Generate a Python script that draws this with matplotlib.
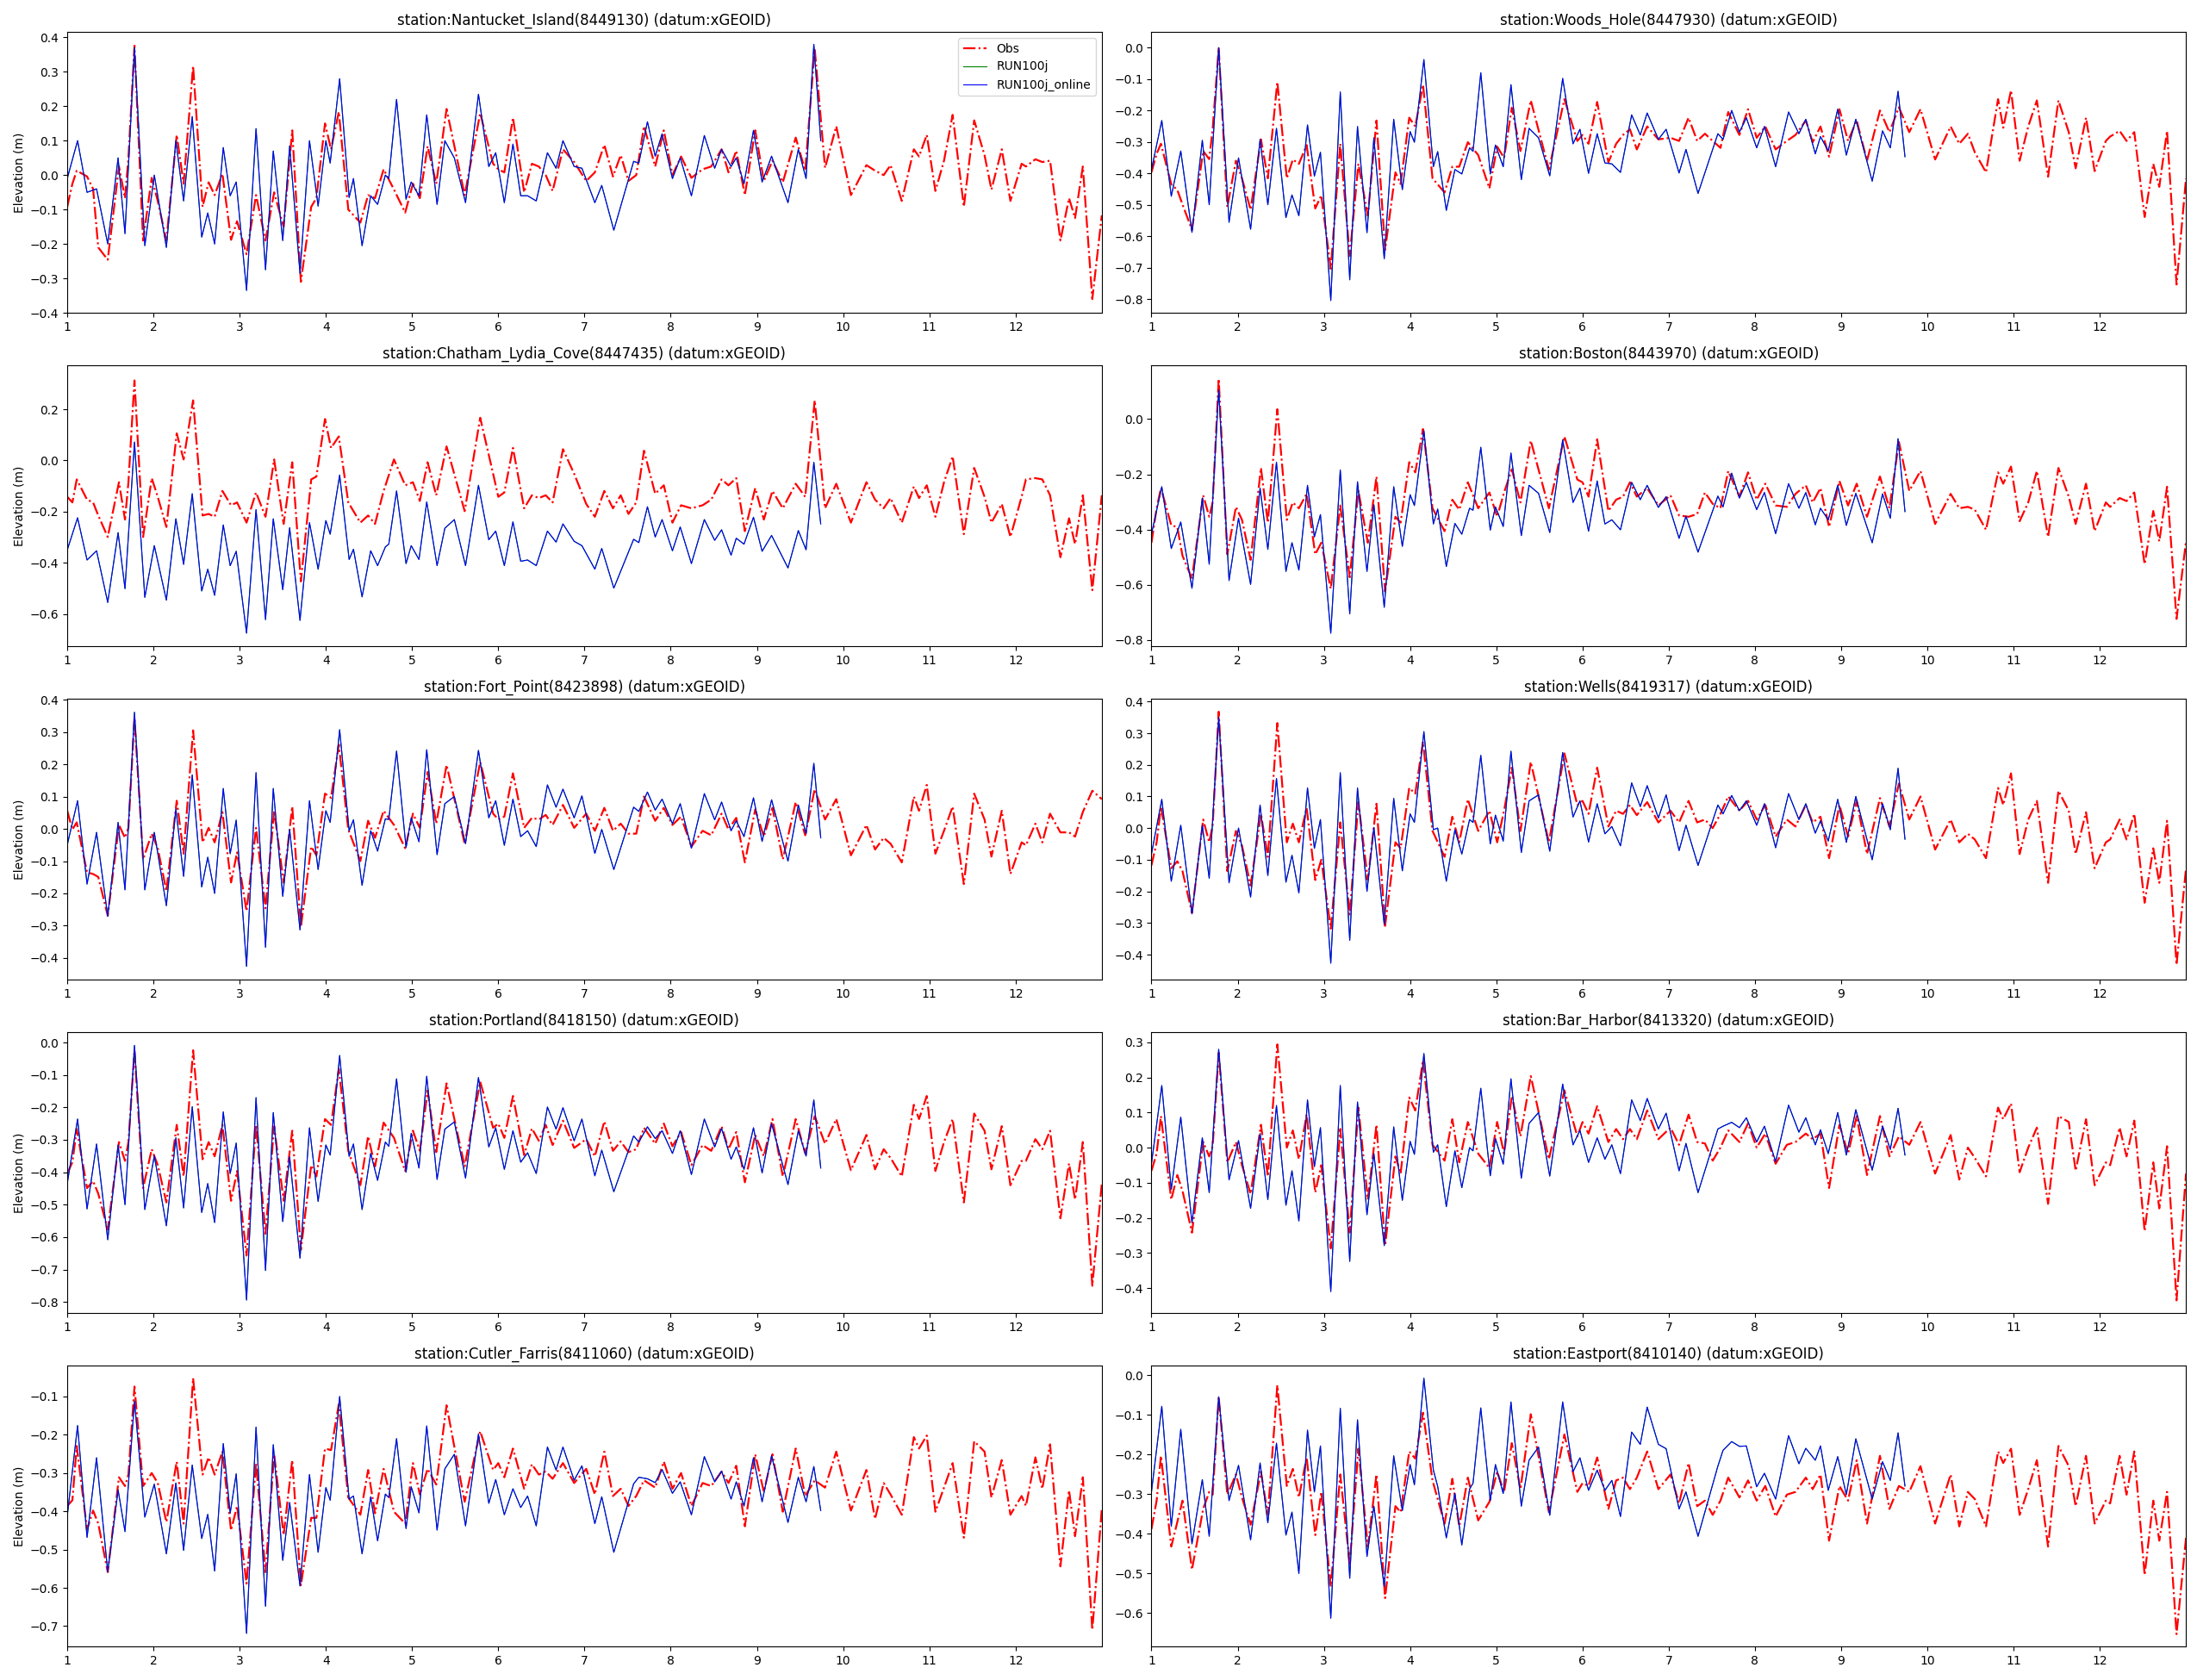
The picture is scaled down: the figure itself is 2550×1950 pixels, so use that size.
import matplotlib
matplotlib.use("Agg")
import matplotlib.pyplot as plt

# stations shown, left to right, top to bottom
stations = ["Nantucket_Island", "Woods_Hole", "Chatham_Lydia_Cove", "Boston", "Fort_Point",
            "Wells", "Portland", "Bar_Harbor", "Cutler_Farris", "Eastport"]
station_ids = ["8449130", "8447930", "8447435", "8443970", "8423898",
               "8419317", "8418150", "8413320", "8411060", "8410140"]

# time (days) of the turning points
obs_t = [1.00, 1.06, 1.11, 1.23, 1.30, 1.36, 1.47, 1.60, 1.67, 1.71,
         1.78, 1.88, 1.98, 2.05, 2.15, 2.27, 2.35, 2.46, 2.57, 2.64,
         2.71, 2.80, 2.90, 2.97, 3.08, 3.19, 3.30, 3.40, 3.51, 3.61,
         3.71, 3.83, 3.89, 3.99, 4.06, 4.15, 4.26, 4.40, 4.49, 4.57,
         4.67, 4.79, 4.92, 5.01, 5.09, 5.18, 5.28, 5.40, 5.61, 5.79,
         5.94, 6.00, 6.07, 6.17, 6.30, 6.39, 6.47, 6.55, 6.63, 6.75,
         6.88, 7.02, 7.12, 7.23, 7.33, 7.42, 7.51, 7.60, 7.69, 7.82,
         7.92, 8.02, 8.12, 8.24, 8.37, 8.47, 8.59, 8.67, 8.76, 8.86,
         8.98, 9.08, 9.18, 9.30, 9.45, 9.56, 9.67, 9.79, 9.92, 10.09,
         10.27, 10.37, 10.47, 10.55, 10.68, 10.82, 10.88, 10.97, 11.07, 11.17,
         11.27, 11.40, 11.52, 11.64, 11.72, 11.84, 11.94, 12.07, 12.12, 12.23,
         12.31, 12.40, 12.52, 12.62, 12.69, 12.78, 12.89, 13.00]

model_t = [1.00, 1.12, 1.23, 1.34, 1.47, 1.59, 1.67, 1.78, 1.90, 2.01,
           2.15, 2.26, 2.35, 2.45, 2.56, 2.63, 2.71, 2.81, 2.89, 2.96,
           3.08, 3.19, 3.30, 3.39, 3.50, 3.58, 3.70, 3.81, 3.91, 4.00,
           4.05, 4.16, 4.27, 4.32, 4.42, 4.52, 4.60, 4.69, 4.73, 4.82,
           4.93, 4.99, 5.08, 5.17, 5.29, 5.38, 5.49, 5.62, 5.77, 5.89,
           5.97, 6.07, 6.17, 6.26, 6.34, 6.44, 6.57, 6.67, 6.75, 6.88,
           6.97, 7.12, 7.20, 7.34, 7.57, 7.63, 7.73, 7.82, 7.90, 8.02,
           8.11, 8.24, 8.39, 8.51, 8.59, 8.70, 8.76, 8.85, 8.96, 9.06,
           9.17, 9.36, 9.48, 9.57, 9.66, 9.74]

# observed water level (m)
obs_nantucket = [-0.092, -0.025, 0.013, -0.004, -0.04, -0.21, -0.246, 0.025, -0.067, 0.05,
                 0.376, -0.19, -0.008, -0.075, -0.19, 0.117, -0.025, 0.317, -0.092, -0.021,
                 -0.058, 0.004, -0.188, -0.134, -0.23, -0.058, -0.19, -0.05, -0.15, 0.13,
                 -0.31, -0.092, -0.067, 0.15, 0.075, 0.184, -0.10, -0.138, -0.058, -0.067,
                 0.017, -0.042, -0.109, -0.025, -0.067, 0.084, -0.025, 0.192, -0.058, 0.18,
                 0.033, 0.017, 0.008, 0.167, -0.05, 0.033, 0.025, 0.0, -0.046, 0.075,
                 0.038, -0.017, 0.008, 0.088, -0.004, 0.058, -0.017, 0.0, 0.142, 0.025,
                 0.13, 0.0, 0.054, -0.008, 0.017, 0.025, 0.075, 0.008, 0.071, -0.058,
                 0.13, -0.017, 0.042, -0.021, 0.109, 0.013, 0.367, 0.021, 0.142, -0.058,
                 0.029, 0.013, 0.0, 0.029, -0.075, 0.075, 0.054, 0.117, -0.046, 0.042,
                 0.175, -0.092, 0.159, 0.058, -0.042, 0.075, -0.075, 0.033, 0.025, 0.046,
                 0.038, 0.042, -0.19, -0.067, -0.125, 0.025, -0.36, -0.117]
obs_woods_hole = [-0.397, -0.338, -0.306, -0.435, -0.453, -0.499, -0.58, -0.329, -0.355, -0.26,
                  0.0, -0.507, -0.36, -0.416, -0.516, -0.292, -0.416, -0.109, -0.416, -0.356,
                  -0.37, -0.31, -0.512, -0.47, -0.704, -0.306, -0.663, -0.37, -0.535, -0.232,
                  -0.644, -0.397, -0.434, -0.223, -0.251, -0.118, -0.416, -0.461, -0.379, -0.379,
                  -0.301, -0.342, -0.448, -0.315, -0.351, -0.191, -0.329, -0.168, -0.388, -0.164,
                  -0.297, -0.278, -0.306, -0.173, -0.365, -0.306, -0.278, -0.26, -0.324, -0.251,
                  -0.292, -0.287, -0.297, -0.223, -0.297, -0.274, -0.297, -0.319, -0.205, -0.278,
                  -0.196, -0.287, -0.251, -0.324, -0.297, -0.278, -0.232, -0.301, -0.251, -0.347,
                  -0.196, -0.297, -0.232, -0.36, -0.20, -0.269, -0.19, -0.269, -0.196, -0.356,
                  -0.251, -0.306, -0.274, -0.333, -0.397, -0.164, -0.255, -0.136, -0.36, -0.251,
                  -0.168, -0.411, -0.168, -0.269, -0.384, -0.223, -0.393, -0.297, -0.283, -0.265,
                  -0.297, -0.269, -0.539, -0.37, -0.443, -0.265, -0.754, -0.416]
obs_chatham = [-0.142, -0.164, -0.074, -0.153, -0.164, -0.215, -0.299, -0.085, -0.231, -0.085,
               0.313, -0.299, -0.069, -0.142, -0.26, 0.106, 0.004, 0.235, -0.215, -0.209,
               -0.22, -0.119, -0.175, -0.164, -0.243, -0.125, -0.22, 0.004, -0.248, -0.007,
               -0.473, -0.074, -0.063, 0.162, 0.049, 0.094, -0.164, -0.243, -0.215, -0.248,
               -0.119, 0.004, -0.097, -0.085, -0.158, -0.007, -0.136, 0.055, -0.198, 0.167,
               -0.052, -0.142, -0.125, 0.049, -0.187, -0.136, -0.147, -0.136, -0.164, 0.044,
               -0.052, -0.17, -0.22, -0.119, -0.187, -0.136, -0.209, -0.164, 0.038, -0.13,
               -0.097, -0.243, -0.175, -0.187, -0.175, -0.153, -0.074, -0.097, -0.069, -0.276,
               -0.108, -0.231, -0.119, -0.187, -0.091, -0.142, 0.235, -0.187, -0.091, -0.243,
               -0.085, -0.153, -0.187, -0.147, -0.243, -0.102, -0.147, -0.097, -0.22, -0.085,
               0.016, -0.288, -0.029, -0.142, -0.243, -0.17, -0.299, -0.142, -0.074, -0.069,
               -0.074, -0.136, -0.378, -0.226, -0.327, -0.136, -0.507, -0.136]
obs_boston = [-0.448, -0.323, -0.25, -0.385, -0.391, -0.495, -0.578, -0.276, -0.354, -0.302,
              0.146, -0.49, -0.318, -0.365, -0.51, -0.177, -0.375, 0.036, -0.365, -0.302,
              -0.323, -0.271, -0.49, -0.448, -0.615, -0.313, -0.573, -0.26, -0.448, -0.208,
              -0.625, -0.354, -0.375, -0.156, -0.193, -0.036, -0.323, -0.406, -0.292, -0.328,
              -0.229, -0.323, -0.266, -0.354, -0.266, -0.182, -0.302, -0.078, -0.323, -0.063,
              -0.219, -0.229, -0.281, -0.073, -0.333, -0.292, -0.281, -0.229, -0.281, -0.25,
              -0.313, -0.276, -0.349, -0.354, -0.344, -0.266, -0.307, -0.323, -0.188, -0.281,
              -0.193, -0.292, -0.234, -0.313, -0.318, -0.271, -0.24, -0.302, -0.25, -0.391,
              -0.224, -0.313, -0.234, -0.354, -0.208, -0.323, -0.083, -0.26, -0.188, -0.38,
              -0.271, -0.323, -0.318, -0.328, -0.401, -0.193, -0.234, -0.172, -0.37, -0.302,
              -0.188, -0.427, -0.177, -0.281, -0.38, -0.234, -0.406, -0.302, -0.318, -0.286,
              -0.297, -0.266, -0.526, -0.333, -0.443, -0.245, -0.724, -0.443]
obs_fort_point = [0.056, -0.002, 0.02, -0.135, -0.14, -0.149, -0.269, 0.012, -0.028, 0.003,
                  0.345, -0.095, -0.015, -0.06, -0.193, 0.087, -0.077, 0.305, -0.042, 0.003,
                  -0.042, 0.052, -0.166, -0.073, -0.255, 0.003, -0.246, 0.056, -0.166, 0.069,
                  -0.304, -0.055, -0.082, 0.109, 0.096, 0.261, -0.002, -0.10, 0.025, -0.028,
                  0.056, 0.012, -0.06, 0.047, 0.003, 0.176, 0.016, 0.198, -0.046, 0.207,
                  0.047, 0.029, 0.038, 0.172, 0.003, 0.034, 0.029, 0.043, 0.012, 0.074,
                  0.003, 0.047, -0.006, 0.065, -0.006, 0.016, -0.015, -0.015, 0.10, 0.025,
                  0.065, 0.012, 0.038, -0.055, -0.006, -0.02, 0.047, -0.002, 0.034, -0.104,
                  0.06, -0.024, 0.065, -0.095, 0.083, -0.02, 0.123, 0.029, 0.092, -0.082,
                  0.012, -0.064, -0.028, -0.046, -0.104, 0.10, 0.056, 0.136, -0.077, -0.006,
                  0.069, -0.171, 0.109, 0.029, -0.086, 0.056, -0.14, -0.042, -0.051, 0.016,
                  -0.042, 0.047, -0.011, -0.011, -0.024, 0.052, 0.118, 0.092]
obs_wells = [-0.118, -0.045, 0.068, -0.127, -0.105, -0.136, -0.268, 0.027, -0.045, 0.009,
             0.368, -0.136, -0.009, -0.055, -0.182, 0.045, -0.091, 0.332, -0.045, 0.014,
             -0.045, 0.064, -0.164, -0.10, -0.318, 0.018, -0.273, 0.082, -0.164, 0.077,
             -0.309, -0.045, -0.064, 0.127, 0.109, 0.273, -0.009, -0.091, 0.036, -0.045,
             0.091, -0.009, 0.055, -0.045, 0.055, 0.191, -0.009, 0.209, -0.045, 0.236,
             0.073, 0.086, 0.045, 0.191, 0.005, 0.055, 0.045, 0.073, 0.041, 0.082,
             0.018, 0.055, 0.018, 0.086, 0.018, 0.027, 0.0, 0.045, 0.10, 0.055,
             0.086, 0.027, 0.073, -0.027, 0.027, 0.005, 0.073, 0.018, 0.036, -0.095,
             0.073, -0.027, 0.086, -0.082, 0.095, 0.005, 0.141, 0.027, 0.10, -0.068,
             0.027, -0.045, -0.018, -0.036, -0.095, 0.127, 0.073, 0.173, -0.082, 0.027,
             0.086, -0.173, 0.118, 0.055, -0.082, 0.05, -0.127, -0.045, -0.036, 0.027,
             -0.036, 0.045, -0.236, -0.064, -0.173, 0.023, -0.432, -0.127]
obs_portland = [-0.404, -0.369, -0.267, -0.449, -0.427, -0.466, -0.577, -0.307, -0.365, -0.307,
                -0.024, -0.449, -0.329, -0.378, -0.493, -0.254, -0.413, -0.024, -0.36, -0.307,
                -0.351, -0.254, -0.488, -0.396, -0.657, -0.254, -0.59, -0.258, -0.488, -0.272,
                -0.639, -0.378, -0.413, -0.236, -0.254, -0.081, -0.334, -0.44, -0.289, -0.382,
                -0.247, -0.294, -0.396, -0.272, -0.334, -0.148, -0.338, -0.126, -0.382, -0.121,
                -0.263, -0.25, -0.294, -0.165, -0.347, -0.265, -0.303, -0.254, -0.316, -0.241,
                -0.325, -0.298, -0.351, -0.243, -0.334, -0.305, -0.338, -0.329, -0.263, -0.312,
                -0.25, -0.32, -0.276, -0.378, -0.316, -0.334, -0.258, -0.329, -0.276, -0.431,
                -0.285, -0.351, -0.236, -0.413, -0.236, -0.342, -0.227, -0.312, -0.236, -0.394,
                -0.285, -0.391, -0.329, -0.356, -0.413, -0.192, -0.236, -0.165, -0.396, -0.307,
                -0.236, -0.493, -0.219, -0.272, -0.391, -0.258, -0.44, -0.365, -0.365, -0.298,
                -0.329, -0.272, -0.542, -0.373, -0.484, -0.307, -0.75, -0.435]
obs_bar_harbor = [-0.066, -0.017, 0.09, -0.148, -0.078, -0.123, -0.242, 0.016, -0.025, 0.004,
                  0.27, -0.042, 0.016, -0.05, -0.132, 0.065, -0.082, 0.294, 0.0, 0.049,
                  -0.033, 0.094, -0.128, -0.05, -0.287, 0.053, -0.242, 0.114, -0.148, 0.065,
                  -0.279, -0.025, -0.074, 0.143, 0.106, 0.249, 0.008, -0.037, 0.081, -0.042,
                  0.073, -0.017, -0.058, 0.073, -0.017, 0.147, 0.032, 0.204, -0.033, 0.163,
                  0.032, 0.073, 0.04, 0.118, 0.016, 0.053, 0.024, 0.053, 0.024, 0.106,
                  0.024, 0.057, 0.008, 0.094, 0.016, 0.012, -0.037, 0.0, 0.049, 0.016,
                  0.069, 0.0, 0.04, -0.046, 0.008, 0.016, 0.04, 0.024, 0.04, -0.115,
                  0.065, -0.017, 0.09, -0.078, 0.09, -0.025, 0.032, 0.008, 0.073, -0.074,
                  0.036, -0.091, 0.0, -0.029, -0.082, 0.114, 0.081, 0.126, -0.07, 0.0,
                  0.057, -0.16, 0.09, 0.073, -0.066, 0.081, -0.107, -0.042, -0.05, 0.057,
                  -0.025, 0.077, -0.238, -0.042, -0.173, 0.004, -0.435, -0.074]
obs_cutler = [-0.386, -0.371, -0.229, -0.447, -0.398, -0.432, -0.559, -0.311, -0.334, -0.304,
              -0.074, -0.334, -0.30, -0.326, -0.428, -0.27, -0.432, -0.052, -0.304, -0.259,
              -0.304, -0.244, -0.45, -0.386, -0.589, -0.274, -0.559, -0.251, -0.462, -0.266,
              -0.593, -0.417, -0.417, -0.236, -0.24, -0.12, -0.364, -0.409, -0.292, -0.405,
              -0.289, -0.401, -0.432, -0.274, -0.356, -0.289, -0.33, -0.123, -0.375, -0.191,
              -0.292, -0.274, -0.311, -0.236, -0.341, -0.277, -0.304, -0.296, -0.315, -0.274,
              -0.326, -0.289, -0.356, -0.244, -0.36, -0.341, -0.386, -0.36, -0.319, -0.338,
              -0.27, -0.341, -0.30, -0.386, -0.326, -0.334, -0.296, -0.326, -0.281, -0.439,
              -0.251, -0.349, -0.251, -0.401, -0.236, -0.36, -0.319, -0.338, -0.244, -0.398,
              -0.292, -0.42, -0.326, -0.356, -0.409, -0.206, -0.236, -0.202, -0.401, -0.338,
              -0.274, -0.469, -0.217, -0.244, -0.364, -0.266, -0.409, -0.36, -0.386, -0.259,
              -0.341, -0.225, -0.544, -0.345, -0.465, -0.311, -0.71, -0.394]
obs_eastport = [-0.388, -0.316, -0.203, -0.432, -0.37, -0.316, -0.49, -0.337, -0.294, -0.301,
                -0.054, -0.301, -0.25, -0.308, -0.377, -0.243, -0.352, -0.025, -0.279, -0.236,
                -0.308, -0.207, -0.403, -0.294, -0.533, -0.25, -0.475, -0.185, -0.432, -0.25,
                -0.562, -0.33, -0.345, -0.192, -0.21, -0.094, -0.265, -0.374, -0.261, -0.381,
                -0.258, -0.366, -0.319, -0.243, -0.294, -0.171, -0.287, -0.098, -0.345, -0.149,
                -0.294, -0.272, -0.279, -0.207, -0.337, -0.265, -0.258, -0.287, -0.258, -0.192,
                -0.287, -0.25, -0.323, -0.221, -0.33, -0.316, -0.352, -0.316, -0.258, -0.308,
                -0.265, -0.316, -0.279, -0.356, -0.301, -0.294, -0.258, -0.287, -0.25, -0.417,
                -0.279, -0.316, -0.214, -0.374, -0.203, -0.337, -0.279, -0.294, -0.229, -0.374,
                -0.25, -0.381, -0.294, -0.312, -0.381, -0.192, -0.221, -0.185, -0.352, -0.287,
                -0.214, -0.432, -0.178, -0.229, -0.33, -0.203, -0.374, -0.316, -0.323, -0.203,
                -0.301, -0.192, -0.504, -0.316, -0.417, -0.294, -0.653, -0.41]

# model run RUN100j_online (m); RUN100j lies on top of it at this scale
mod_nantucket = [-0.01, 0.10, -0.05, -0.04, -0.20, 0.05, -0.17, 0.37, -0.205, 0.0,
                 -0.21, 0.10, -0.075, 0.17, -0.18, -0.11, -0.20, 0.08, -0.06, -0.02,
                 -0.335, 0.135, -0.275, 0.07, -0.19, 0.085, -0.285, 0.10, -0.09, 0.10,
                 0.035, 0.28, -0.065, -0.01, -0.205, -0.06, -0.085, 0.0, -0.01, 0.22,
                 -0.07, -0.02, -0.06, 0.175, -0.085, 0.10, 0.05, -0.08, 0.235, 0.025,
                 0.065, -0.08, 0.09, -0.06, -0.06, -0.075, 0.065, 0.02, 0.10, 0.025,
                 0.02, -0.08, -0.03, -0.16, 0.04, 0.035, 0.155, 0.055, 0.12, -0.01,
                 0.05, -0.06, 0.115, 0.02, 0.075, 0.025, 0.05, -0.025, 0.13, -0.02,
                 0.055, -0.08, 0.075, -0.01, 0.38, 0.10]
mod_woods_hole = [-0.388, -0.232, -0.473, -0.329, -0.588, -0.295, -0.50, 0.0, -0.556, -0.351,
                  -0.578, -0.292, -0.50, -0.257, -0.541, -0.469, -0.535, -0.246, -0.409, -0.333,
                  -0.805, -0.141, -0.739, -0.251, -0.589, -0.287, -0.672, -0.228, -0.452, -0.267,
                  -0.301, -0.038, -0.379, -0.331, -0.518, -0.388, -0.402, -0.319, -0.33, -0.08,
                  -0.402, -0.31, -0.379, -0.118, -0.42, -0.257, -0.287, -0.408, -0.098, -0.306,
                  -0.26, -0.40, -0.274, -0.367, -0.37, -0.397, -0.214, -0.278, -0.208, -0.292,
                  -0.26, -0.399, -0.324, -0.464, -0.274, -0.292, -0.20, -0.269, -0.223, -0.319,
                  -0.251, -0.379, -0.205, -0.274, -0.228, -0.338, -0.283, -0.329, -0.196, -0.342,
                  -0.228, -0.425, -0.265, -0.319, -0.139, -0.347]
mod_chatham = [-0.35, -0.224, -0.389, -0.353, -0.555, -0.282, -0.501, 0.072, -0.535, -0.333,
               -0.546, -0.228, -0.406, -0.13, -0.51, -0.425, -0.527, -0.252, -0.411, -0.355,
               -0.675, -0.192, -0.622, -0.228, -0.505, -0.263, -0.625, -0.243, -0.425, -0.235,
               -0.288, -0.057, -0.387, -0.347, -0.533, -0.353, -0.411, -0.338, -0.327, -0.119,
               -0.403, -0.333, -0.387, -0.162, -0.411, -0.265, -0.231, -0.411, -0.097, -0.31,
               -0.276, -0.411, -0.24, -0.394, -0.389, -0.411, -0.276, -0.319, -0.248, -0.316,
               -0.333, -0.425, -0.344, -0.499, -0.308, -0.321, -0.181, -0.299, -0.231, -0.353,
               -0.26, -0.403, -0.231, -0.312, -0.271, -0.37, -0.304, -0.327, -0.222, -0.355,
               -0.293, -0.42, -0.274, -0.349, -0.007, -0.248]
mod_boston = [-0.417, -0.245, -0.469, -0.373, -0.613, -0.286, -0.526, 0.106, -0.585, -0.359,
              -0.599, -0.25, -0.472, -0.156, -0.552, -0.448, -0.547, -0.24, -0.427, -0.346,
              -0.776, -0.184, -0.706, -0.227, -0.552, -0.31, -0.682, -0.245, -0.461, -0.274,
              -0.313, -0.042, -0.38, -0.326, -0.534, -0.378, -0.417, -0.323, -0.33, -0.102,
              -0.402, -0.318, -0.389, -0.123, -0.422, -0.24, -0.269, -0.411, -0.075, -0.302,
              -0.25, -0.406, -0.224, -0.38, -0.365, -0.401, -0.229, -0.292, -0.24, -0.32,
              -0.281, -0.432, -0.352, -0.482, -0.279, -0.318, -0.196, -0.286, -0.229, -0.328,
              -0.266, -0.415, -0.234, -0.323, -0.266, -0.383, -0.323, -0.365, -0.24, -0.385,
              -0.269, -0.448, -0.271, -0.359, -0.071, -0.335]
mod_fort_point = [-0.05, 0.087, -0.171, -0.011, -0.271, 0.02, -0.189, 0.361, -0.189, -0.011,
                  -0.238, 0.062, -0.147, 0.167, -0.18, -0.088, -0.20, 0.125, -0.077, 0.027,
                  -0.426, 0.174, -0.367, 0.125, -0.209, -0.002, -0.313, 0.087, -0.126, 0.056,
                  0.02, 0.307, -0.006, 0.028, -0.175, -0.006, -0.069, 0.031, 0.029, 0.241,
                  -0.058, 0.034, -0.04, 0.245, -0.08, 0.078, 0.10, -0.046, 0.243, 0.034,
                  0.087, -0.051, 0.092, -0.024, -0.006, -0.055, 0.136, 0.067, 0.123, 0.034,
                  0.102, -0.076, -0.002, -0.126, 0.067, 0.054, 0.114, 0.058, 0.092, 0.016,
                  0.078, -0.06, 0.109, 0.028, 0.083, -0.006, 0.025, -0.024, 0.096, -0.039,
                  0.09, -0.10, 0.074, -0.015, 0.203, -0.028]
mod_wells = [-0.082, 0.091, -0.168, 0.009, -0.271, 0.009, -0.159, 0.35, -0.173, 0.0,
             -0.218, 0.073, -0.15, 0.157, -0.171, -0.086, -0.205, 0.127, -0.064, 0.027,
             -0.427, 0.175, -0.355, 0.127, -0.20, 0.002, -0.305, 0.094, -0.135, 0.045,
             0.018, 0.305, -0.005, 0.0, -0.168, -0.005, -0.082, 0.027, 0.018, 0.23,
             -0.05, 0.041, -0.041, 0.243, -0.077, 0.086, 0.105, -0.073, 0.239, 0.035,
             0.086, -0.044, 0.077, -0.018, 0.005, -0.056, 0.143, 0.068, 0.134, 0.032,
             0.105, -0.071, 0.009, -0.118, 0.073, 0.045, 0.103, 0.055, 0.086, 0.009,
             0.077, -0.062, 0.109, 0.027, 0.077, -0.016, 0.023, -0.041, 0.091, -0.045,
             0.10, -0.10, 0.077, -0.005, 0.189, -0.035]
mod_portland = [-0.435, -0.236, -0.513, -0.313, -0.608, -0.316, -0.50, -0.009, -0.515, -0.349,
                -0.565, -0.294, -0.51, -0.198, -0.524, -0.435, -0.555, -0.214, -0.404, -0.31,
                -0.794, -0.17, -0.703, -0.216, -0.552, -0.353, -0.665, -0.263, -0.49, -0.316,
                -0.347, -0.04, -0.351, -0.313, -0.515, -0.342, -0.425, -0.307, -0.32, -0.112,
                -0.40, -0.28, -0.387, -0.104, -0.422, -0.267, -0.245, -0.418, -0.108, -0.322,
                -0.263, -0.391, -0.272, -0.369, -0.34, -0.404, -0.199, -0.267, -0.201, -0.303,
                -0.236, -0.411, -0.332, -0.46, -0.288, -0.307, -0.26, -0.296, -0.272, -0.342,
                -0.272, -0.407, -0.236, -0.322, -0.265, -0.36, -0.322, -0.391, -0.263, -0.402,
                -0.25, -0.438, -0.272, -0.35, -0.177, -0.387]
mod_bar_harbor = [-0.046, 0.177, -0.119, 0.087, -0.214, 0.028, -0.128, 0.28, -0.092, 0.02,
                  -0.173, 0.04, -0.148, 0.12, -0.164, -0.066, -0.209, 0.136, -0.054, 0.057,
                  -0.41, 0.177, -0.324, 0.13, -0.191, -0.017, -0.279, 0.059, -0.15, 0.018,
                  -0.019, 0.268, -0.013, 0.008, -0.168, -0.009, -0.114, 0.0, -0.009, 0.169,
                  -0.08, 0.026, -0.047, 0.196, -0.087, 0.069, 0.10, -0.081, 0.181, 0.008,
                  0.049, -0.042, 0.028, -0.033, 0.008, -0.074, 0.136, 0.077, 0.14, 0.053,
                  0.098, -0.066, 0.012, -0.128, 0.053, 0.061, 0.072, 0.057, 0.085, 0.016,
                  0.061, -0.04, 0.121, 0.044, 0.085, 0.008, 0.051, -0.017, 0.10, -0.021,
                  0.108, -0.064, 0.061, -0.005, 0.112, -0.021]
mod_cutler = [-0.413, -0.176, -0.468, -0.26, -0.558, -0.344, -0.453, -0.112, -0.415, -0.329,
              -0.511, -0.326, -0.502, -0.279, -0.471, -0.408, -0.556, -0.223, -0.405, -0.302,
              -0.719, -0.18, -0.648, -0.226, -0.528, -0.377, -0.595, -0.304, -0.507, -0.338,
              -0.371, -0.10, -0.368, -0.36, -0.511, -0.362, -0.477, -0.355, -0.364, -0.21,
              -0.445, -0.336, -0.404, -0.177, -0.449, -0.289, -0.251, -0.438, -0.198, -0.379,
              -0.317, -0.409, -0.341, -0.39, -0.36, -0.438, -0.232, -0.292, -0.232, -0.319,
              -0.281, -0.432, -0.362, -0.507, -0.328, -0.311, -0.315, -0.325, -0.291, -0.353,
              -0.323, -0.409, -0.257, -0.323, -0.295, -0.368, -0.323, -0.386, -0.26, -0.375,
              -0.255, -0.429, -0.311, -0.375, -0.283, -0.398]
mod_eastport = [-0.294, -0.078, -0.381, -0.136, -0.425, -0.263, -0.406, -0.054, -0.316, -0.227,
                -0.415, -0.221, -0.372, -0.171, -0.403, -0.345, -0.50, -0.138, -0.294, -0.178,
                -0.613, -0.083, -0.512, -0.112, -0.457, -0.33, -0.533, -0.203, -0.341, -0.225,
                -0.276, -0.007, -0.239, -0.28, -0.41, -0.298, -0.428, -0.287, -0.272, -0.082,
                -0.316, -0.225, -0.298, -0.067, -0.33, -0.214, -0.181, -0.353, -0.067, -0.243,
                -0.208, -0.29, -0.239, -0.29, -0.265, -0.356, -0.143, -0.174, -0.08, -0.174,
                -0.185, -0.337, -0.294, -0.406, -0.229, -0.189, -0.167, -0.179, -0.178, -0.281,
                -0.247, -0.312, -0.152, -0.223, -0.184, -0.214, -0.178, -0.29, -0.205, -0.301,
                -0.16, -0.312, -0.218, -0.265, -0.145, -0.279]

obs_all = [obs_nantucket, obs_woods_hole, obs_chatham, obs_boston, obs_fort_point,
           obs_wells, obs_portland, obs_bar_harbor, obs_cutler, obs_eastport]
mod_all = [mod_nantucket, mod_woods_hole, mod_chatham, mod_boston, mod_fort_point,
           mod_wells, mod_portland, mod_bar_harbor, mod_cutler, mod_eastport]

ylims = [(-0.400, 0.416), (-0.844, 0.050), (-0.726, 0.372), (-0.823, 0.195), (-0.467, 0.403),
         (-0.479, 0.409), (-0.834, 0.032), (-0.471, 0.329), (-0.753, -0.019), (-0.684, 0.025)]

fig, axes = plt.subplots(5, 2, figsize=(25.5, 19.5), dpi=100)
plt.subplots_adjust(left=0.0306, right=0.995, top=0.981, bottom=0.020, wspace=0.048, hspace=0.187)

for i, ax in enumerate(axes.flat):
    ax.plot(obs_t, obs_all[i], 'r-.', lw=1.6, label='Obs')
    ax.plot(model_t, mod_all[i], color='g', lw=0.8, label='RUN100j')
    ax.plot(model_t, mod_all[i], color='b', lw=0.8, label='RUN100j_online')
    ax.set_xlim(1, 13)
    ax.set_xticks(range(1, 13))
    ax.set_ylim(*ylims[i])
    ax.set_title(f"station:{stations[i]}({station_ids[i]}) (datum:xGEOID)", fontsize=12)
    if i % 2 == 0:
        ax.set_ylabel('Elevation (m)')
    if i == 0:
        ax.legend(loc='upper right')

plt.savefig('out.png', dpi=100, facecolor='white')
